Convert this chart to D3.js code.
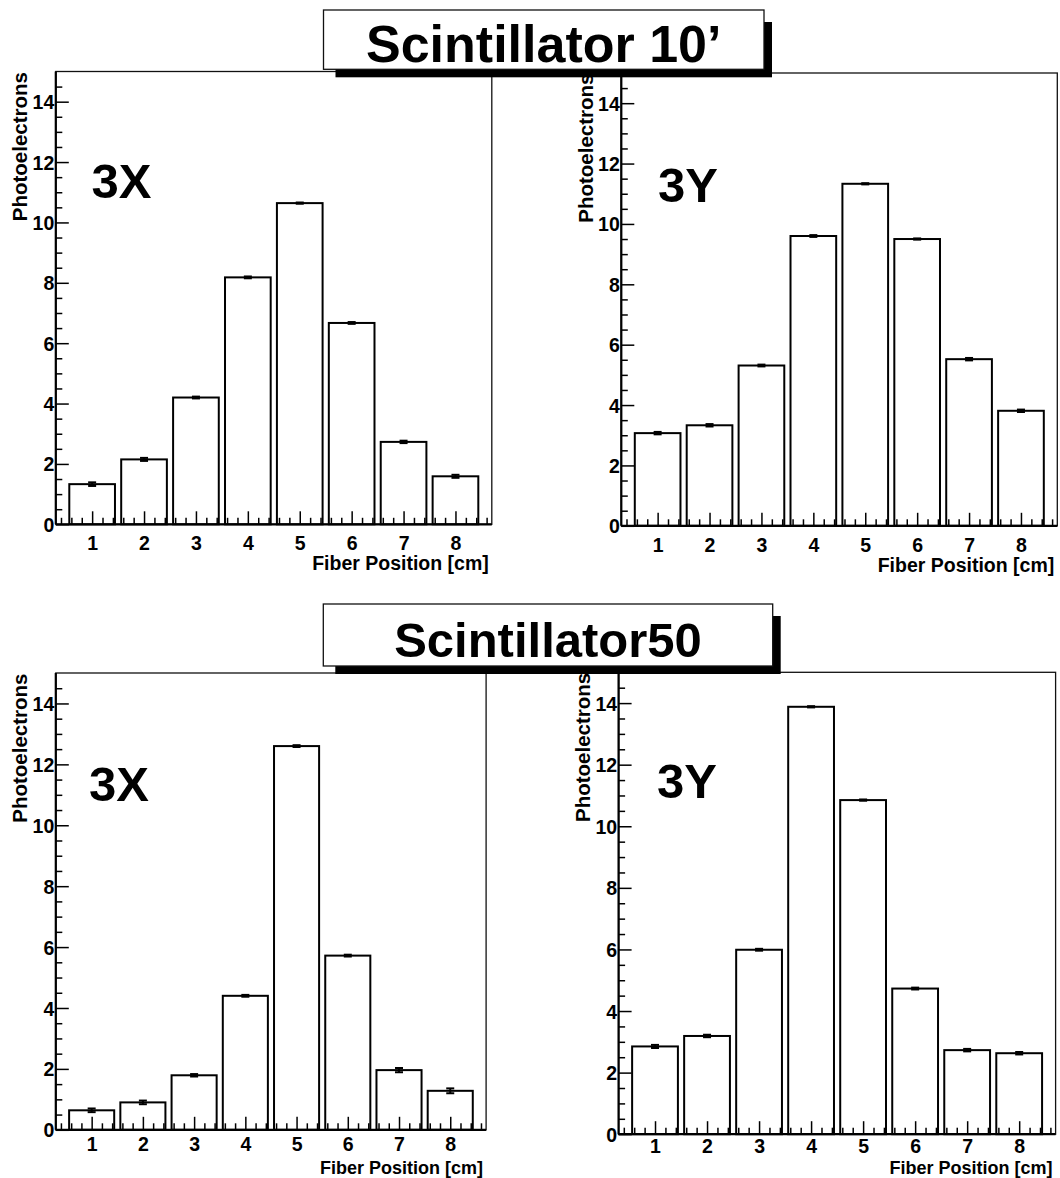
<!DOCTYPE html>
<html>
<head>
<meta charset="utf-8">
<script src="https://cdn.jsdelivr.net/npm/d3@7"></script>
<style>
  html, body { margin: 0; padding: 0; background: #fff; }
  svg { display: block; }
  text { font-family: "Liberation Sans", Arial, Helvetica, sans-serif; font-weight: bold; fill: #000; }
</style>
</head>
<body>
<svg id="chart" width="1060" height="1178"></svg>
<script>
// ---------------- DATA ----------------
const fiberPositions = [1, 2, 3, 4, 5, 6, 7, 8];
const xTickLabels = ["1", "2", "3", "4", "5", "6", "7", "8"];
const yTickValues = [0, 2, 4, 6, 8, 10, 12, 14];
const xAxisTitle = "Fiber Position [cm]";
const yAxisTitle = "Photoelectrons";
const groupTitles = ["Scintillator 10\u2019", "Scintillator50"];
const panelLabels = ["3X", "3Y", "3X", "3Y"];

const sci10_3X = [1.33, 2.15, 4.20, 8.18, 10.64, 6.67, 2.73, 1.59];
const sci10_3X_err = [0.06, 0.05, 0.03, 0.03, 0.02, 0.03, 0.04, 0.05];
const sci10_3Y = [3.07, 3.33, 5.31, 9.60, 11.33, 9.50, 5.52, 3.81];
const sci10_3Y_err = [0.04, 0.04, 0.03, 0.03, 0.02, 0.02, 0.04, 0.04];
const sci50_3X = [0.64, 0.90, 1.79, 4.40, 12.60, 5.72, 1.96, 1.28];
const sci50_3X_err = [0.06, 0.06, 0.04, 0.03, 0.03, 0.03, 0.07, 0.08];
const sci50_3Y = [2.85, 3.19, 5.99, 13.88, 10.85, 4.73, 2.73, 2.63];
const sci50_3Y_err = [0.05, 0.04, 0.03, 0.02, 0.02, 0.03, 0.04, 0.04];

// ---------------- LAYOUT ----------------
const xDomain = [0.3, 8.7];
const yDomain = [0, 15];
const barHalf = 0.44;

const panels = [
  { vals: sci10_3X, errs: sci10_3X_err, label: panelLabels[0], x0: 55.8, x1: 491.8, yTop: 71.5, yBot: 524.3, lx: 91.5, ly: 197.7, tickDy: 26, titleY: 570.4, titleSize: 19.5 },
  { vals: sci10_3Y, errs: sci10_3Y_err, label: panelLabels[1], x0: 621.3, x1: 1057.3, yTop: 73, yBot: 525.8, lx: 658, ly: 202, tickDy: 26, titleY: 572, titleSize: 19.5 },
  { vals: sci50_3X, errs: sci50_3X_err, label: panelLabels[2], x0: 55.8, x1: 486.1, yTop: 673, yBot: 1129.8, lx: 89, ly: 801, tickDy: 21.5, titleY: 1173.8, titleSize: 18 },
  { vals: sci50_3Y, errs: sci50_3Y_err, label: panelLabels[3], x0: 618.6, x1: 1055.6, yTop: 672.3, yBot: 1134.2, lx: 657, ly: 797.7, tickDy: 19, titleY: 1174, titleSize: 18 }
];

const titleBoxes = [
  { text: groupTitles[0], x0: 323.5, x1: 764, y0: 10, y1: 69.3, size: 52, baseline: 62 },
  { text: groupTitles[1], x0: 323.3, x1: 772.7, y0: 604, y1: 666, size: 49, baseline: 657 }
];

const svg = d3.select("#chart");
svg.append("rect").attr("width", 1060).attr("height", 1178).attr("fill", "#fff");

panels.forEach(p => {
  const x = d3.scaleLinear().domain(xDomain).range([p.x0, p.x1]);
  const y = d3.scaleLinear().domain(yDomain).range([p.yBot, p.yTop]);
  const g = svg.append("g");

  // frame
  g.append("rect")
    .attr("x", p.x0).attr("y", p.yTop)
    .attr("width", p.x1 - p.x0).attr("height", p.yBot - p.yTop)
    .attr("fill", "#fff").attr("stroke", "#111").attr("stroke-width", 1.3);

  // bars
  g.selectAll("rect.bar").data(fiberPositions).enter().append("rect")
    .attr("class", "bar")
    .attr("x", d => x(d - barHalf))
    .attr("width", d => x(d + barHalf) - x(d - barHalf))
    .attr("y", (d, i) => y(p.vals[i]))
    .attr("height", (d, i) => y(0) - y(p.vals[i]))
    .attr("fill", "#fff").attr("stroke", "#000").attr("stroke-width", 2);

  // error bars
  const eg = g.append("g").attr("stroke", "#000").attr("stroke-width", 2);
  fiberPositions.forEach((d, i) => {
    const cx = x(d), yl = y(p.vals[i] - p.errs[i]), yh = y(p.vals[i] + p.errs[i]);
    eg.append("line").attr("x1", cx).attr("x2", cx).attr("y1", yl).attr("y2", yh);
    eg.append("line").attr("x1", cx - 4).attr("x2", cx + 4).attr("y1", yl).attr("y2", yl);
    eg.append("line").attr("x1", cx - 4).attr("x2", cx + 4).attr("y1", yh).attr("y2", yh);
  });

  // x axis: minor ticks every 0.2, major at integers (ticks pointing up)
  const xMinor = d3.range(4, 87, 2).map(v => v / 10).filter(v => Math.abs(v - Math.round(v)) > 1e-6);
  g.append("g").attr("transform", `translate(0,${p.yBot})`)
    .call(d3.axisTop(x).tickValues(xMinor).tickSize(6.5).tickFormat(""))
    .call(s => s.select(".domain").remove())
    .call(s => s.selectAll("line").attr("stroke", "#000").attr("stroke-width", 1.5));
  g.append("g").attr("transform", `translate(0,${p.yBot})`)
    .call(d3.axisTop(x).tickValues(fiberPositions).tickSize(13).tickFormat(""))
    .call(s => s.select(".domain").remove())
    .call(s => s.selectAll("line").attr("stroke", "#000").attr("stroke-width", 1.5));
  // x labels
  g.append("g").attr("transform", `translate(0,${p.yBot})`)
    .call(d3.axisBottom(x).tickValues(fiberPositions).tickSize(0).tickPadding(0)
      .tickFormat((d, i) => xTickLabels[i]))
    .call(s => s.select(".domain").remove())
    .call(s => s.selectAll("text").attr("dy", null).attr("y", p.tickDy)
      .attr("font-size", 19.5).attr("font-family", null).attr("fill", "#000"));

  // y axis: minor every 0.5, major every 2 (ticks pointing right)
  const yMinor = d3.range(1, 30).map(v => v / 2).filter(v => v % 2 !== 0);
  g.append("g").attr("transform", `translate(${p.x0},0)`)
    .call(d3.axisRight(y).tickValues(yMinor).tickSize(6.5).tickFormat(""))
    .call(s => s.select(".domain").remove())
    .call(s => s.selectAll("line").attr("stroke", "#000").attr("stroke-width", 1.5));
  const yAx = g.append("g").attr("transform", `translate(${p.x0},0)`)
    .call(d3.axisRight(y).tickValues(yTickValues).tickSize(13).tickFormat(d3.format("d")));
  yAx.select(".domain").remove();
  yAx.selectAll("line").attr("stroke", "#000").attr("stroke-width", 1.5);
  yAx.selectAll("text").attr("x", -1.5).attr("dy", "0.36em").attr("text-anchor", "end")
    .attr("font-size", 19.5).attr("font-family", null).attr("fill", "#000");

  // axis lines
  g.append("line").attr("x1", p.x0).attr("x2", p.x1).attr("y1", p.yBot).attr("y2", p.yBot)
    .attr("stroke", "#000").attr("stroke-width", 2.2);
  g.append("line").attr("x1", p.x0).attr("x2", p.x0).attr("y1", p.yTop).attr("y2", p.yBot)
    .attr("stroke", "#000").attr("stroke-width", 2.2);

  // axis titles
  g.append("text").attr("x", p.x1 - 3).attr("y", p.titleY)
    .attr("text-anchor", "end").attr("font-size", p.titleSize).text(xAxisTitle);
  g.append("text")
    .attr("transform", `translate(${p.x0 - 28.5},${p.yTop + 0.5}) rotate(-90)`)
    .attr("text-anchor", "end").attr("font-size", 20.5).text(yAxisTitle);

  // panel label
  g.append("text").attr("x", p.lx).attr("y", p.ly).attr("font-size", 49).text(p.label);
});

// title boxes with shadow
titleBoxes.forEach(t => {
  const g = svg.append("g");
  g.append("rect").attr("x", t.x0 + 12).attr("y", t.y0 + 12)
    .attr("width", t.x1 - t.x0 - 4).attr("height", t.y1 - t.y0 - 4)
    .attr("fill", "#000");
  g.append("rect").attr("x", t.x0).attr("y", t.y0)
    .attr("width", t.x1 - t.x0).attr("height", t.y1 - t.y0)
    .attr("fill", "#fff").attr("stroke", "#111").attr("stroke-width", 1.3);
  g.append("text").attr("x", (t.x0 + t.x1) / 2).attr("y", t.baseline)
    .attr("text-anchor", "middle").attr("font-size", t.size).text(t.text);
});
</script>
</body>
</html>
